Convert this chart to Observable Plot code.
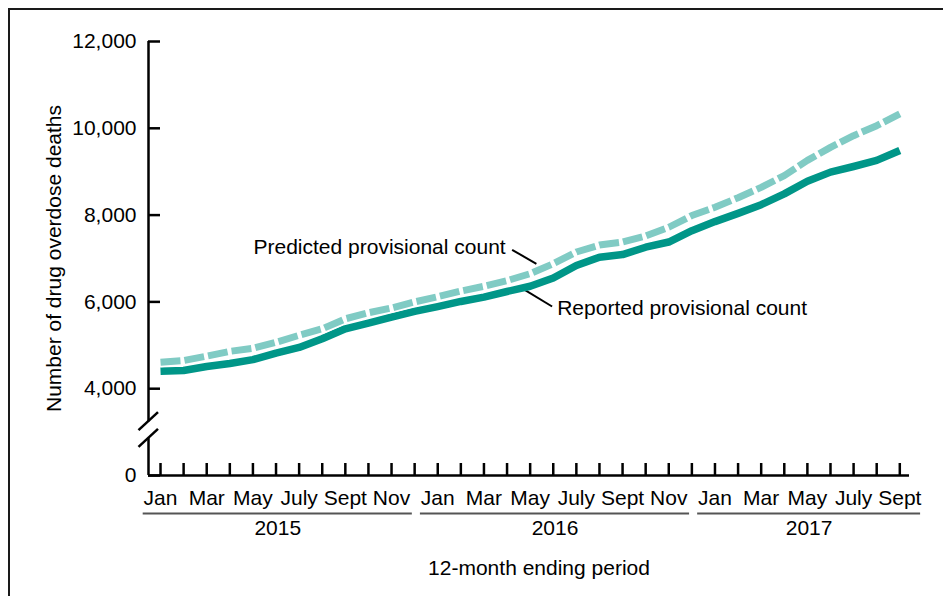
<!DOCTYPE html>
<html>
<head>
<meta charset="utf-8">
<script src="https://cdn.jsdelivr.net/npm/d3@7"></script>
<script src="https://cdn.jsdelivr.net/npm/@observablehq/plot@0.6"></script>
<style>
  html, body { margin: 0; padding: 0; background: #fff; overflow: hidden; }
  #wrap { position: relative; width: 943px; height: 596px; }
  #border { position: absolute; left: 8px; top: 8px; width: 2000px; height: 2000px;
            border: 2px solid #1a1a1a; pointer-events: none; box-sizing: border-box; }
</style>
</head>
<body>
<div id="wrap"><div id="chart"></div><div id="border"></div></div>
<script>
// ---- data (12-month ending periods, Jan 2015 .. Sept 2017) ----
const monthTickLabels = ["Jan", "", "Mar", "", "May", "", "July", "", "Sept", "", "Nov", ""];
const years = ["2015", "2016", "2017"];
const reported = [
  4400, 4420, 4510, 4580, 4670, 4820, 4950, 5150, 5380, 5510, 5650, 5780,
  5890, 6010, 6110, 6240, 6360, 6550, 6840, 7030, 7090, 7260, 7380, 7640,
  7850, 8040, 8240, 8490, 8780, 8990, 9120, 9260, 9490
];
const predicted = [
  4610, 4650, 4750, 4860, 4930, 5070, 5230, 5380, 5610, 5750, 5860, 6000,
  6120, 6250, 6360, 6490, 6650, 6880, 7150, 7310, 7380, 7520, 7720, 7990,
  8180, 8400, 8640, 8910, 9260, 9560, 9830, 10060, 10330
];
const yTicks = [4000, 6000, 8000, 10000, 12000];
const seriesNames = ["Predicted provisional count", "Reported provisional count"];
const yLabel = "Number of drug overdose deaths";
const xLabel = "12-month ending period";

// annotations in data units (month index, deaths)
const annX = [14.94, 17.17];
const annY = [7270, 5850];
const leaderX1 = [15.22, 15.62], leaderY1 = [7200, 6325];
const leaderX2 = [16.27, 16.95], leaderY2 = [6878, 5894];

// ---- derived tables ----
const n = reported.length;
const axisBase = 2000;          // broken axis: bottom of scale shown as "0"
const breakValue = 3044;        // where the axis break symbol sits
const xDomain = [-0.52, 32.42];
const teal = "#009688", lightTeal = "#80cbc4";
const fmt = d3.format(",");
const FS = 21;

const yearRows = years.map((y, k) => {
  const first = 12 * k;
  const last = Math.min(12 * k + 10, n - 1);
  const x1 = first - 0.75, x2 = last + 0.9;
  return {year: y, x1, x2, mid: (x1 + x2) / 2};
});
const leaders = seriesNames.map((s, i) => ({x1: leaderX1[i], y1: leaderY1[i], x2: leaderX2[i], y2: leaderY2[i]}));

const plot = Plot.plot({
  width: 943,
  height: 596,
  marginLeft: 148,
  marginRight: 34,
  marginTop: 41,
  marginBottom: 121,
  style: {fontFamily: "'Liberation Sans', Arial, Helvetica, sans-serif", fontSize: FS + "px", color: "#000", background: "transparent"},
  x: {type: "linear", domain: xDomain, axis: null},
  y: {type: "linear", domain: [axisBase, 12000], axis: null},
  marks: [
    Plot.ruleY([axisBase], {stroke: "#000", strokeWidth: 2.5}),
    Plot.ruleX([xDomain[0]], {stroke: "#000", strokeWidth: 2.5}),
    Plot.axisX(d3.range(n), {
      tickSize: -12, tickPadding: 27, strokeWidth: 2.5, fontSize: FS, label: null,
      tickFormat: i => monthTickLabels[i % 12]
    }),
    Plot.axisY([axisBase, ...yTicks], {
      tickSize: -12, tickPadding: 24, strokeWidth: 2.5, fontSize: FS, label: null,
      tickFormat: d => d === axisBase ? "0" : fmt(d)
    }),
    Plot.ruleY(yearRows, {x1: "x1", x2: "x2", y: () => axisBase, dy: 38, stroke: "#555", strokeWidth: 2}),
    Plot.text(yearRows, {x: "mid", y: () => axisBase, dy: 45, lineAnchor: "top", text: "year", fontSize: FS}),
    Plot.text([xLabel], {frameAnchor: "bottom", textAnchor: "middle", dx: 10, dy: 85, lineAnchor: "top", fontSize: FS}),
    Plot.text([yLabel], {frameAnchor: "left", textAnchor: "middle", dx: -94.5, rotate: -90, fontSize: FS}),
    Plot.link(leaders, {x1: "x1", y1: "y1", x2: "x2", y2: "y2", stroke: "#000", strokeWidth: 2}),
    Plot.line(reported, {x: (d, i) => i, y: d => d, stroke: teal, strokeWidth: 7.5, strokeLinecap: "butt", strokeLinejoin: "round"}),
    Plot.line(predicted, {x: (d, i) => i, y: d => d, stroke: "#fff", strokeWidth: 10, strokeLinecap: "butt", strokeLinejoin: "round"}),
    Plot.line(predicted, {x: (d, i) => i, y: d => d, stroke: lightTeal, strokeWidth: 7, strokeDasharray: "20,4", strokeLinecap: "butt", strokeLinejoin: "round"}),
    Plot.text([seriesNames[0]], {x: () => annX[0], y: () => annY[0], textAnchor: "end", fontSize: FS}),
    Plot.text([seriesNames[1]], {x: () => annX[1], y: () => annY[1], textAnchor: "start", fontSize: FS})
  ]
});

// axis break symbol, placed with the plot's own scales
const xs = plot.scale("x"), ys = plot.scale("y");
const ax = xs.apply(xDomain[0]), by = ys.apply(breakValue);
const g = d3.select(plot).append("g");
g.append("line").attr("x1", ax).attr("x2", ax).attr("y1", by - 8.4).attr("y2", by + 8.4)
  .attr("stroke", "#fff").attr("stroke-width", 5);
[-8.4, 8.4].forEach(off => {
  g.append("line")
    .attr("x1", ax - 9.5).attr("y1", by + off + 8.8)
    .attr("x2", ax + 10).attr("y2", by + off - 9.2)
    .attr("stroke", "#000").attr("stroke-width", 2.5);
});

document.getElementById("chart").appendChild(plot);
</script>
</body>
</html>
